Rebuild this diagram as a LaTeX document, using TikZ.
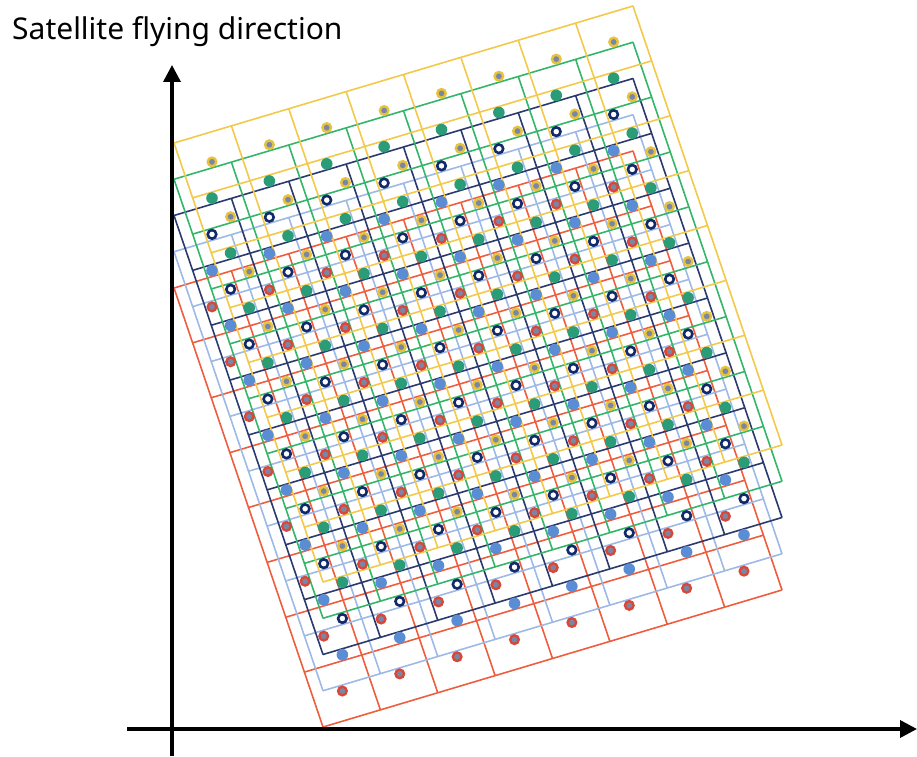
\documentclass[tikz,border=0pt]{standalone}
\usepackage{fontspec}
\setmainfont{Noto Sans}
\usetikzlibrary{arrows.meta}
\definecolor{gridred}{HTML}{EE5E3E}
\definecolor{gridblue}{HTML}{9DB9E6}
\definecolor{gridnavy}{HTML}{2A3A6E}
\definecolor{gridgreen}{HTML}{35B56A}
\definecolor{gridyellow}{HTML}{F2C94A}
\definecolor{dotred}{HTML}{D8473A}
\definecolor{dotblue}{HTML}{5B8DD4}
\definecolor{dotnavy}{HTML}{12296A}
\definecolor{dotgreen}{HTML}{2A9C78}
\definecolor{dotyellow}{HTML}{E6C23E}
\definecolor{dotcore}{HTML}{7A86A6}

\begin{document}
\begin{tikzpicture}[
    x=1pt, y=1pt,
    gridline/.style={draw=#1, line width=1.6pt},
    reddot/.style={fill=dotcore, draw=dotred, line width=2.4pt},
    bluedot/.style={fill=dotblue},
    navydot/.style={fill=white, draw=dotnavy, line width=2.6pt},
    greendot/.style={fill=dotgreen},
    yellowdot/.style={fill=dotcore, draw=dotyellow, line width=2.4pt},
    axis/.style={line width=3.5pt, -{Triangle[length=17pt, width=17pt]}}
]
\useasboundingbox (0,0) rectangle (917,756);

% Shifted footprint grids
\foreach \k/\col in {0/gridred, 1/gridblue, 2/gridnavy, 3/gridgreen, 4/gridyellow}{
  \begin{scope}[shift={(323,29+36.25*\k)}, x={(57.375pt,17.125pt)}, y={(-18.625pt,54.875pt)}]
    \foreach \i in {0,...,8} \draw[gridline=\col] (\i,0) -- (\i,8);
    \foreach \j in {0,...,8} \draw[gridline=\col] (0,\j) -- (8,\j);
  \end{scope}
}

% Cell centres
\foreach \k/\dotstyle/\r in {0/reddot/4.3, 1/bluedot/5.8, 2/navydot/4.3, 3/greendot/5.8, 4/yellowdot/4.3}{
  \begin{scope}[shift={(323,29+36.25*\k)}, x={(57.375pt,17.125pt)}, y={(-18.625pt,54.875pt)}]
    \foreach \i in {0,...,7}
      \foreach \j in {0,...,7}
        \path[\dotstyle] (\i+0.5,\j+0.5) circle[radius=\r pt];
  \end{scope}
}

% Axes
\coordinate (ybot) at (172,0);
\coordinate (ytip) at (172,691);
\coordinate (xleft) at (127,27);
\coordinate (xtip) at (917,27);
\draw[axis] (ybot) -- (ytip);
\draw[axis] (xleft) -- (xtip);

\node[anchor=base west, inner sep=0pt, font=\fontsize{30}{34}\selectfont] (title) at (12,716) {Satellite flying direction};

\end{tikzpicture}
\end{document}
